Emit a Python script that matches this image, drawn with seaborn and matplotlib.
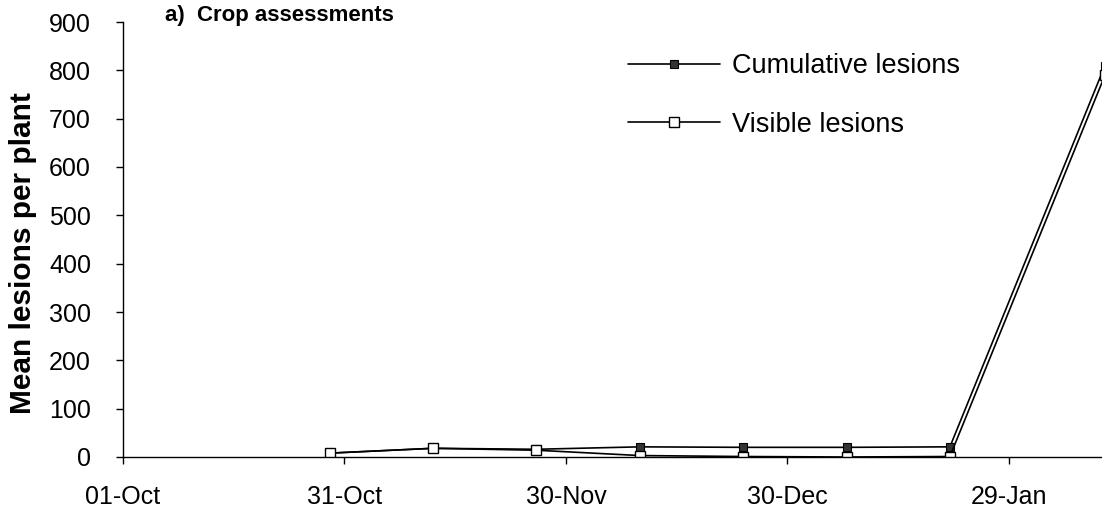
import matplotlib
matplotlib.use("Agg")
import matplotlib.pyplot as plt
import matplotlib.dates as mdates
import seaborn as sns
import pandas as pd

# Assessment dates and mean lesion counts per plant
dates = ["1998-10-29", "1998-11-12", "1998-11-26", "1998-12-10",
         "1998-12-24", "1999-01-07", "1999-01-21", "1999-02-11"]
cumulative = [8, 18, 16, 21, 20, 20, 21, 810]
visible = [8, 18, 14, 3, 1, 0, 1, 790]

tick_dates = ["1998-10-01", "1998-10-31", "1998-11-30", "1998-12-30", "1999-01-29"]
y_ticks = list(range(0, 1000, 100))

sns.set_theme(style="ticks")
plt.rcParams["font.family"] = ["Liberation Sans", "DejaVu Sans"]
plt.rcParams["text.color"] = "black"

df = pd.DataFrame({"date": pd.to_datetime(dates),
                   "cumulative": cumulative,
                   "visible": visible})

fig = plt.figure(figsize=(11.02, 5.12), dpi=100)
ax = fig.add_axes([123 / 1102, 55 / 512, 1 - 123 / 1102, (457 - 22) / 512])

sns.lineplot(data=df, x="date", y="cumulative", ax=ax, color="black",
             linewidth=1.2, marker="s", markersize=6,
             markerfacecolor="#333333", markeredgecolor="black",
             markeredgewidth=0.8, label="Cumulative lesions")
sns.lineplot(data=df, x="date", y="visible", ax=ax, color="black",
             linewidth=1.2, marker="s", markersize=7.5,
             markerfacecolor="white", markeredgecolor="black",
             markeredgewidth=1.0, label="Visible lesions")

ax.set_ylim(0, 900)
ax.set_yticks(y_ticks)
ax.set_xlim(pd.Timestamp("1998-10-01"), pd.Timestamp("1998-10-01") + pd.Timedelta(days=132.6))
ax.set_xticks(pd.to_datetime(tick_dates))
ax.xaxis.set_major_formatter(mdates.DateFormatter("%d-%b"))

ax.set_xlabel("")
ax.set_ylabel("Mean lesions per plant", fontsize=21.5, fontweight="bold",
              color="black")
ax.yaxis.set_label_coords(-0.088, 0.469)
ax.tick_params(axis="both", labelsize=18, color="black", labelcolor="black",
               direction="out", length=5, width=1)
ax.tick_params(axis="x", pad=15)
ax.tick_params(axis="y", pad=18)

for side in ("top", "right"):
    ax.spines[side].set_visible(False)
for side in ("left", "bottom"):
    ax.spines[side].set_color("black")
    ax.spines[side].set_linewidth(1.0)

fig.text(165 / 1102, 1 - 16 / 512, "a)  Crop assessments", fontsize=16,
         fontweight="bold", ha="left", va="center", color="black")

leg = ax.legend(loc="upper left", bbox_to_anchor=(628 / 1102, 1 - 53 / 512),
                bbox_transform=fig.transFigure, frameon=False, fontsize=19.5,
                handlelength=3.4, handletextpad=0.45, labelspacing=1.2,
                borderpad=0, borderaxespad=0)
for t in leg.get_texts():
    t.set_color("black")

fig.savefig("out.png", dpi=100, facecolor="white")
